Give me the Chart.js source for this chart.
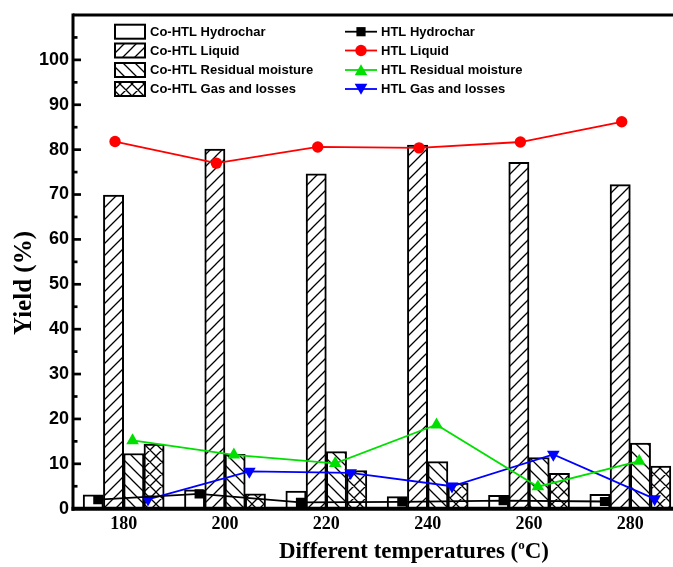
<!DOCTYPE html>
<html><head><meta charset="utf-8">
<script src="https://cdn.jsdelivr.net/npm/chart.js@4.4.1/dist/chart.umd.min.js"></script>
<style>html,body{margin:0;padding:0;background:#fff;overflow:hidden}canvas{display:block}</style>
</head><body>
<canvas id="c" width="700" height="567"></canvas>
<script>
// ---- data ----
const temperatures = ['180','200','220','240','260','280'];
const tempValues = [180, 200, 220, 240, 260, 280];
const coHydrochar = [3.1, 4.2, 3.9, 2.7, 3.0, 3.2];
const coLiquid    = [69.9, 80.1, 74.6, 81.0, 77.2, 72.2];
const coMoisture  = [12.3, 12.1, 12.7, 10.5, 11.4, 14.6];
const coGas       = [14.4, 3.3, 8.5, 5.7, 7.9, 9.5];
const htlHydrochar = [2.0, 3.3, 1.4, 1.5, 1.8, 1.6];
const htlLiquid    = [81.8, 77.0, 80.6, 80.4, 81.7, 86.2];
const htlMoisture  = [15.2, 12.0, 10.1, 18.7, 4.9, 10.6];
const htlGas       = [2.1, 8.3, 8.0, 5.0, 12.1, 2.2];
const yTickLabels = [0, 10, 20, 30, 40, 50, 60, 70, 80, 90, 100];

// ---- styling ----
const SANS = '"Liberation Sans", Arial, sans-serif';
const SERIF = '"Liberation Serif", "Times New Roman", serif';
// horizontal offsets (in °C units of the hidden linear axis) of each series within a group
const barOffsets  = { hydro: -6, liquid: -2, moist: 2, gas: 6 };
const lineOffsets = { hydro: -5.1, liquid: -1.7, moist: 1.75, gas: 4.8 };

const ctx = document.getElementById('c').getContext('2d');
function makePattern(kind) {
  const s = 12, c = document.createElement('canvas');
  c.width = s; c.height = s;
  const g = c.getContext('2d');
  g.fillStyle = '#fff'; g.fillRect(0, 0, s, s);
  g.strokeStyle = '#000'; g.lineWidth = 1.3; g.beginPath();
  if (kind === '/' || kind === 'x') {
    g.moveTo(-1, s + 1); g.lineTo(s + 1, -1);
    g.moveTo(-2, 2); g.lineTo(2, -2);
    g.moveTo(s - 2, s + 2); g.lineTo(s + 2, s - 2);
  }
  if (kind === '\\' || kind === 'x') {
    g.moveTo(-1, -1); g.lineTo(s + 1, s + 1);
    g.moveTo(s - 2, -2); g.lineTo(s + 2, 2);
    g.moveTo(-2, s - 2); g.lineTo(2, s + 2);
  }
  g.stroke();
  return ctx.createPattern(c, 'repeat');
}
const patSlash = makePattern('/');
const patBack = makePattern('\\');
const patCross = makePattern('x');

function pts(arr, off) { return arr.map((v, i) => ({ x: tempValues[i] + off, y: v })); }

const barCommon = { type: 'bar', borderColor: '#000', borderWidth: 2, order: 2, grouped: false,
  categoryPercentage: 1.0, barPercentage: 1.0, xAxisID: 'xl', yAxisID: 'y' };
const lineCommon = { type: 'line', xAxisID: 'xl', yAxisID: 'y', order: 0, borderWidth: 1.8,
  tension: 0, fill: false };

const datasets = [
  { ...barCommon, label: 'Co-HTL Hydrochar', data: pts(coHydrochar, barOffsets.hydro), backgroundColor: '#fff' },
  { ...barCommon, label: 'Co-HTL Liquid', data: pts(coLiquid, barOffsets.liquid), backgroundColor: patSlash },
  { ...barCommon, label: 'Co-HTL Residual moisture', data: pts(coMoisture, barOffsets.moist), backgroundColor: patBack },
  { ...barCommon, label: 'Co-HTL Gas and losses', data: pts(coGas, barOffsets.gas), backgroundColor: patCross },
  { ...lineCommon, label: 'HTL Hydrochar', data: pts(htlHydrochar, lineOffsets.hydro),
    borderColor: '#000', backgroundColor: '#000', pointStyle: 'rect', pointRadius: 6.5, pointBorderWidth: 0 },
  { ...lineCommon, label: 'HTL Liquid', data: pts(htlLiquid, lineOffsets.liquid),
    borderColor: '#ff0000', backgroundColor: '#ff0000', pointStyle: 'circle', pointRadius: 5.7, pointBorderWidth: 0 },
  { ...lineCommon, label: 'HTL Residual moisture', data: pts(htlMoisture, lineOffsets.moist),
    borderColor: '#00e000', backgroundColor: '#00e000', pointStyle: 'triangle', pointRadius: 7.3, pointBorderWidth: 0 },
  { ...lineCommon, label: 'HTL Gas and losses', data: pts(htlGas, lineOffsets.gas),
    borderColor: '#0000ff', backgroundColor: '#0000ff', pointStyle: 'triangle', pointRotation: 180, pointRadius: 7.3, pointBorderWidth: 0 }
];

const decor = {
  id: 'decor',
  afterDraw(chart) {
    const c = chart.ctx, a = chart.chartArea, ys = chart.scales.y;
    c.save();
    c.strokeStyle = '#000'; c.lineCap = 'butt';
    c.lineWidth = 3;
    c.beginPath(); c.moveTo(a.left, a.top); c.lineTo(chart.width, a.top); c.stroke();
    c.beginPath(); c.moveTo(a.left, a.top - 1.5); c.lineTo(a.left, a.bottom + 2); c.stroke();
    c.lineWidth = 4;
    c.beginPath(); c.moveTo(a.left - 1.5, a.bottom); c.lineTo(chart.width, a.bottom); c.stroke();
    for (let v = 0; v <= 105; v += 5) {
      const y = ys.getPixelForValue(v);
      const len = (v % 10 === 0) ? 8 : 4.5;
      c.lineWidth = 2.7;
      c.beginPath(); c.moveTo(a.left, y); c.lineTo(a.left + len, y); c.stroke();
    }
    // axis titles
    c.fillStyle = '#000';
    const big = 'bold 23px ' + SERIF, sup = 'bold 13px ' + SERIF;
    const t1 = 'Different temperatures (', t2 = 'o', t3 = 'C)';
    c.font = big; const w1 = c.measureText(t1).width, w3 = c.measureText(t3).width;
    c.font = sup; const w2 = c.measureText(t2).width;
    let x = 414 - (w1 + w2 + w3) / 2; const base = 558;
    c.textBaseline = 'alphabetic'; c.textAlign = 'left';
    c.font = big; c.fillText(t1, x, base); x += w1;
    c.font = sup; c.fillText(t2, x, base - 9); x += w2;
    c.font = big; c.fillText(t3, x, base);
    c.save();
    c.translate(31, 283); c.rotate(-Math.PI / 2);
    c.textAlign = 'center'; c.textBaseline = 'alphabetic';
    c.font = 'bold 25px ' + SERIF; c.fillText('Yield (%)', 0, 0);
    c.restore();
    // legend
    const rows = [31.7, 50.5, 70, 89];
    c.font = 'bold 13px ' + SANS; c.textBaseline = 'middle'; c.textAlign = 'left';
    for (let i = 0; i < 4; i++) {
      const ds = chart.data.datasets[i], y = rows[i];
      c.fillStyle = ds.backgroundColor;
      c.fillRect(115, y - 7, 30, 14);
      c.lineWidth = 2; c.strokeStyle = '#000';
      c.strokeRect(115, y - 7, 30, 14);
      c.fillStyle = '#000'; c.fillText(ds.label, 150, y + 0.5);
    }
    for (let i = 0; i < 4; i++) {
      const ds = chart.data.datasets[i + 4], y = rows[i];
      c.strokeStyle = ds.borderColor; c.lineWidth = 1.8;
      c.beginPath(); c.moveTo(345, y); c.lineTo(377, y); c.stroke();
      c.fillStyle = ds.backgroundColor;
      Chart.helpers.drawPoint(c, { pointStyle: ds.pointStyle, radius: ds.pointRadius,
        rotation: ds.pointRotation || 0, borderWidth: 0 }, 361,
        y + (ds.pointStyle === 'triangle' ? (ds.pointRotation ? -1.5 : 1.5) : 0));
      c.fillStyle = '#000'; c.fillText(ds.label, 381, y + 0.5);
    }
    c.restore();
  }
};

new Chart(ctx, {
  data: { labels: temperatures, datasets },
  options: {
    responsive: false, animation: false, devicePixelRatio: 1,
    layout: { padding: { top: 15, right: 19, left: 0, bottom: 0 } },
    plugins: { legend: { display: false }, tooltip: { enabled: false } },
    scales: {
      x: { type: 'category', offset: true, labels: temperatures,
        grid: { display: false, drawTicks: false }, border: { display: false },
        ticks: { color: '#000', padding: 5, maxRotation: 0, font: { family: SERIF, weight: 'bold', size: 18 } },
        afterFit(s) { s.height = 58.3; } },
      xl: { type: 'linear', min: 170, max: 290, offset: false, display: false },
      y: { type: 'linear', min: 0, max: 110,
        grid: { display: false, drawTicks: false }, border: { display: false },
        ticks: { stepSize: 10, color: '#000', padding: 4,
          callback: (v) => yTickLabels.includes(v) ? String(v) : '',
          font: { family: SANS, weight: 'bold', size: 18 } },
        afterFit(s) { s.width = 73; } }
    }
  },
  plugins: [decor]
});
</script>
</body></html>
